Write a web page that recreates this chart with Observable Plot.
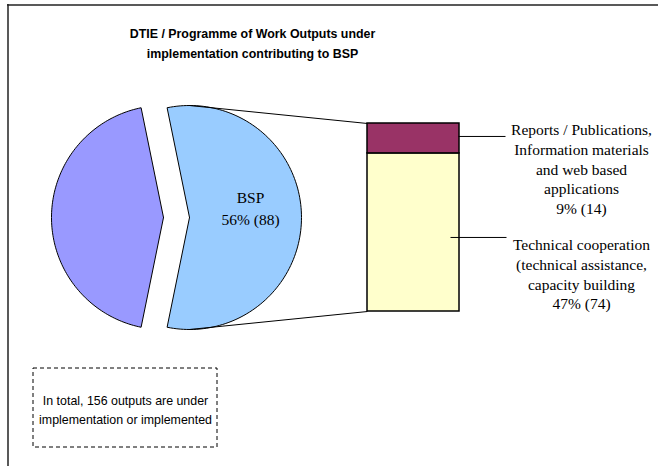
<!DOCTYPE html>
<html><head><meta charset="utf-8">
<script src="https://cdn.jsdelivr.net/npm/d3@7"></script>
<script src="https://cdn.jsdelivr.net/npm/@observablehq/plot@0.6"></script>
<style>html,body{margin:0;padding:0;background:#fff}</style>
</head><body><div id="chart"></div>
<script>
// ---- data ----
const pieCategories = ["BSP", "Other"];
const pieValues = [88, 68];
const pieColors = ["#99CCFF", "#9999FF"];
const barCategories = ["Technical cooperation", "Reports / Publications"];
const barValues = [74, 14];
const barColors = ["#FFFFCC", "#993366"];
const barLabelText = [
  "Technical cooperation\n(technical assistance,\ncapacity building",
  "Reports / Publications,\nInformation materials\nand web based\napplications"
];
const titleLines = ["DTIE / Programme of Work Outputs under", "implementation contributing to BSP"];
const noteLines = ["In total, 156 outputs are under", "implementation or implemented"];

// ---- layout ----
const W = 658, H = 466;
const total = d3.sum(pieValues);
const pct = v => Math.round(v / total * 100) + "%";
const pieC = {x: 176, y: 217}, R = 112, explode = 13;
const bsp = pieValues[0];
const span0 = 2 * Math.PI * bsp / total;
const start = Math.PI / 2 - span0 / 2;
const arcs = d3.pie().sort(null).startAngle(start).endAngle(start + 2 * Math.PI)(pieValues);

const slices = arcs.map((a, i) => {
  const mid = (a.startAngle + a.endAngle) / 2;
  const cx = pieC.x + explode * Math.sin(mid), cy = pieC.y - explode * Math.cos(mid);
  const pts = [{x: cx, y: cy}];
  const n = 120;
  for (let k = 0; k <= n; k++) {
    const t = a.startAngle + (a.endAngle - a.startAngle) * k / n;
    pts.push({x: cx + R * Math.sin(t), y: cy - R * Math.cos(t)});
  }
  pts.push({x: cx, y: cy});
  return {pts, cx, cy, mid, color: pieColors[i], cat: pieCategories[i], value: a.value};
});

const bar = {x1: 367, x2: 459};
const barY = d3.scaleLinear([0, bsp], [311, 123]);
let cum = 0;
const barSegs = barValues.map((v, i) => {
  const s = {y1: barY(cum), y2: barY(cum + v), fill: barColors[i], value: v, text: barLabelText[i]};
  cum += v;
  return s;
});

const bspSlice = slices[0];
const connectors = [
  {x1: bspSlice.cx, y1: bspSlice.cy - R, x2: bar.x1, y2: barY(bsp)},
  {x1: bspSlice.cx, y1: bspSlice.cy + R, x2: bar.x1, y2: barY(0)}
];
const leaders = [
  {x1: bar.x2 - 9, x2: 506, y: (barSegs[0].y1 + barSegs[0].y2) / 2 + 5},
  {x1: bar.x2 - 1, x2: 505, y: (barSegs[1].y1 + barSegs[1].y2) / 2 - 2}
];
const labelPos = [{x: 581, y: 273}, {x: 581, y: 168}];
const labels = barSegs.map((s, i) => ({x: labelPos[i].x, y: labelPos[i].y, text: s.text + "\n" + pct(s.value) + " (" + s.value + ")"}));

const serif = "'Liberation Serif','Times New Roman',serif";
const sans = "'Liberation Sans',Arial,sans-serif";

const marks = [
  Plot.ruleY([4.5], {x1: 7, x2: W, stroke: "#222", strokeWidth: 1.5}),
  Plot.ruleX([7.5], {y1: 4, y2: H, stroke: "#222", strokeWidth: 1.5}),
  Plot.text([titleLines.join("\n")], {x: 252, y: 41, text: d => d, fontFamily: sans, fontWeight: "bold", fontSize: 12.4, lineHeight: 1.62, fill: "#000"}),
  ...slices.map(s => Plot.line(s.pts, {x: "x", y: "y", fill: s.color, stroke: "#000", strokeWidth: 1, curve: "linear"})),
  Plot.link(connectors, {x1: "x1", y1: "y1", x2: "x2", y2: "y2", stroke: "#000", strokeWidth: 1}),
  Plot.rect(barSegs, {x1: bar.x1, x2: bar.x2, y1: "y1", y2: "y2", fill: "fill", stroke: "#000", strokeWidth: 1.5}),
  Plot.link(leaders, {x1: "x1", x2: "x2", y1: "y", y2: "y", stroke: "#000", strokeWidth: 1}),
  Plot.text(labels, {x: "x", y: "y", text: "text", fontFamily: serif, fontSize: 15.5, lineHeight: 1.27, fill: "#000"}),
  Plot.text([bspSlice], {x: 250, y: 206, text: d => d.cat + "\n" + pct(d.value) + " (" + d.value + ")", fontFamily: serif, fontSize: 15.5, lineHeight: 1.42, fill: "#000"}),
  Plot.rect([{}], {x1: 33, x2: 217, y1: 368, y2: 447, fill: "none", stroke: "#000", strokeWidth: 1, strokeDasharray: "4,3"}),
  Plot.text([noteLines.join("\n")], {x: 125, y: 407.5, text: d => d, fontFamily: sans, fontSize: 12.4, lineHeight: 1.55, fill: "#000"})
];

const chart = Plot.plot({
  width: W, height: H,
  margin: 0,
  x: {domain: [0, W], range: [0, W], axis: null},
  y: {domain: [0, H], range: [0, H], axis: null},
  style: {background: "#fff", overflow: "visible"},
  marks
});
document.getElementById("chart").appendChild(chart);
</script>
</body></html>
